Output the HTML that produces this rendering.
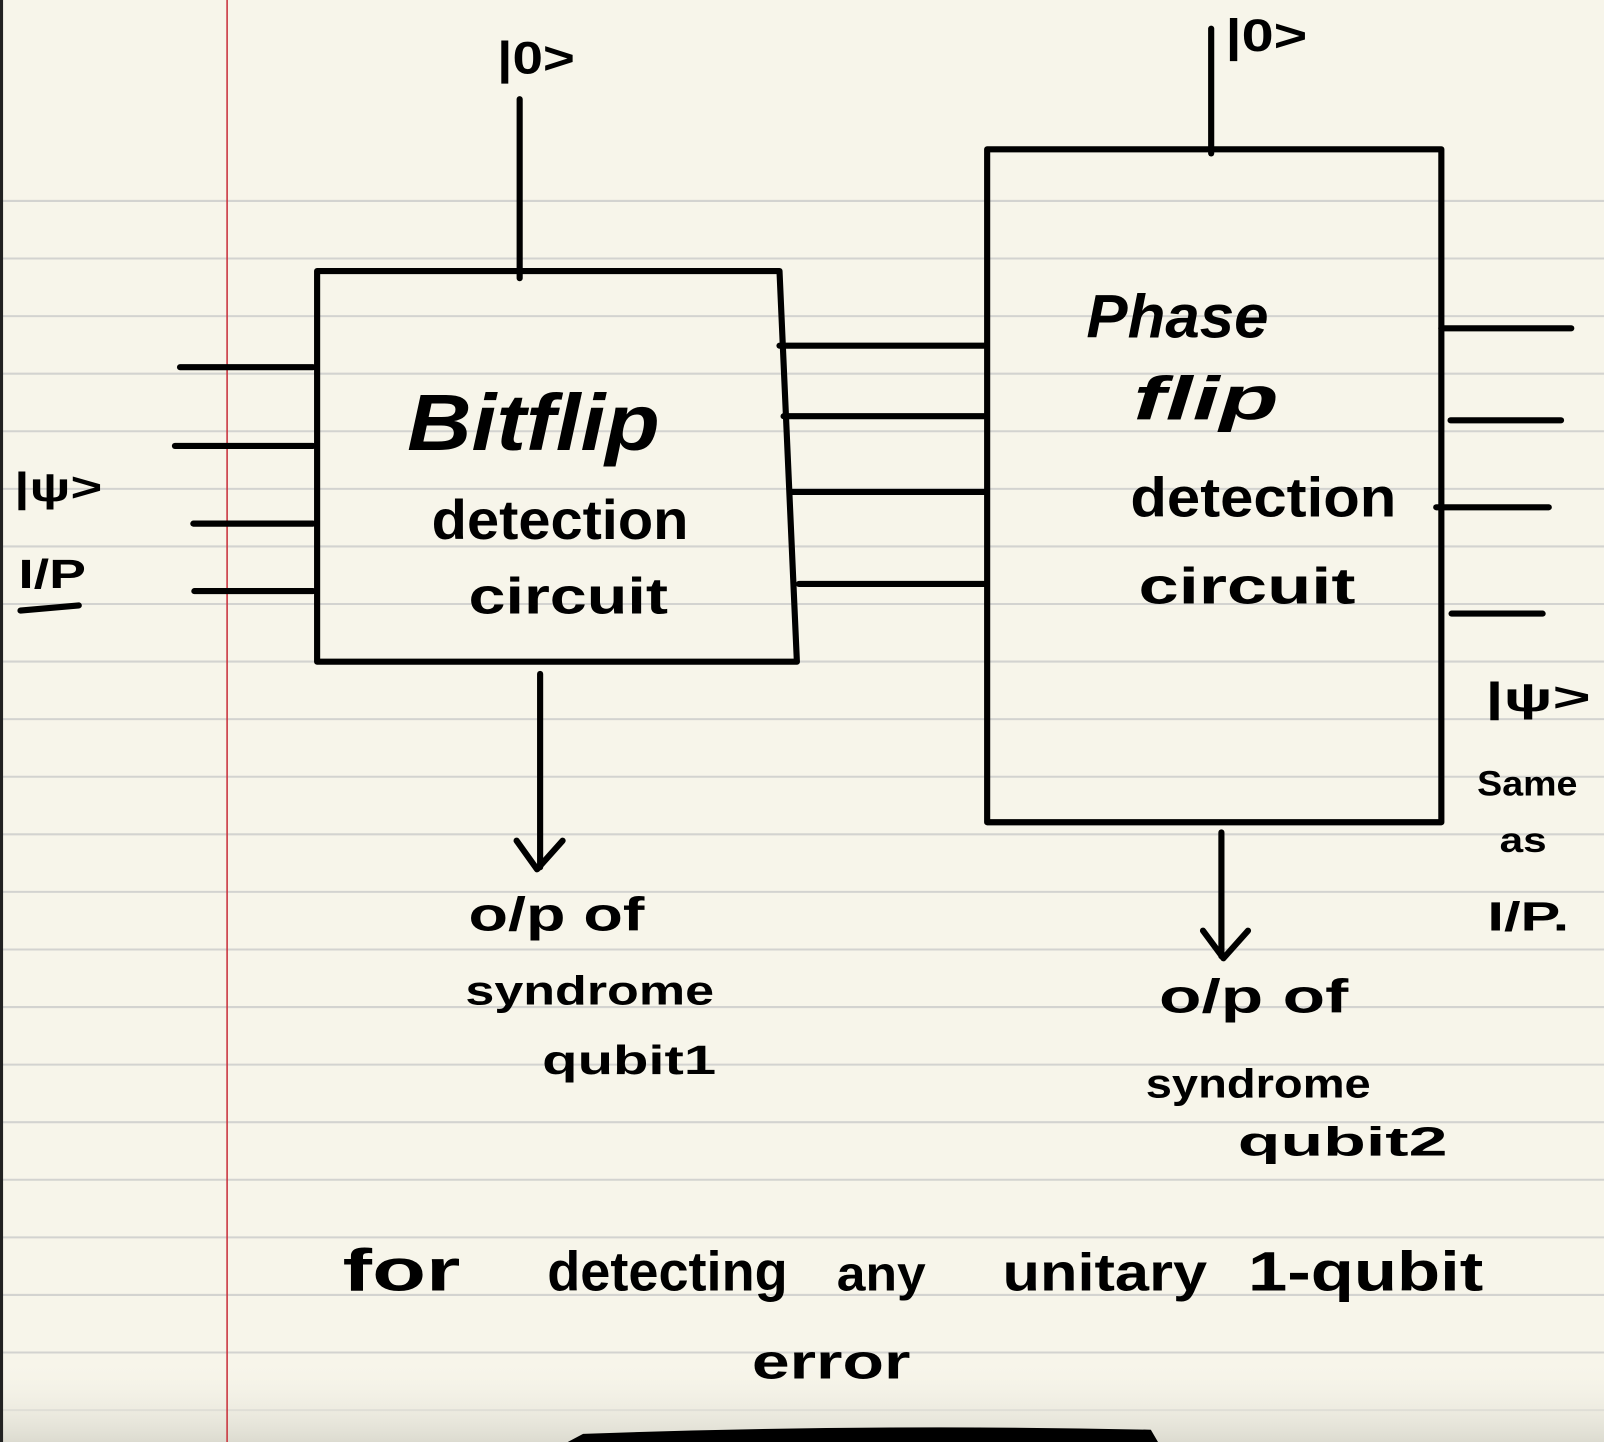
<!DOCTYPE html>
<html><head><meta charset="utf-8"><style>
html,body{margin:0;padding:0;background:#f7f5ea;}
svg{display:block}
text{font-family:"Liberation Sans",sans-serif;font-weight:bold;fill:#000}
</style></head><body>
<svg width="1604" height="1442" viewBox="0 0 1568 1410" preserveAspectRatio="none" xmlns="http://www.w3.org/2000/svg">
<defs>
<linearGradient id="bg" x1="0" y1="0" x2="0" y2="1">
<stop offset="0" stop-color="#f7f5ea" stop-opacity="0"/>
<stop offset="1" stop-color="#dcdbd0"/>
</linearGradient>
</defs>
<rect width="1568" height="1410" fill="#f7f5ea"/>
<g stroke="#d3d3d0" stroke-width="2">
<line x1="0" x2="1568" y1="196.5" y2="196.5"/><line x1="0" x2="1568" y1="252.8" y2="252.8"/>
<line x1="0" x2="1568" y1="309.1" y2="309.1"/><line x1="0" x2="1568" y1="365.4" y2="365.4"/>
<line x1="0" x2="1568" y1="421.7" y2="421.7"/><line x1="0" x2="1568" y1="478" y2="478"/>
<line x1="0" x2="1568" y1="534.3" y2="534.3"/><line x1="0" x2="1568" y1="590.6" y2="590.6"/>
<line x1="0" x2="1568" y1="646.9" y2="646.9"/><line x1="0" x2="1568" y1="703.2" y2="703.2"/>
<line x1="0" x2="1568" y1="759.5" y2="759.5"/><line x1="0" x2="1568" y1="815.8" y2="815.8"/>
<line x1="0" x2="1568" y1="872.1" y2="872.1"/><line x1="0" x2="1568" y1="928.4" y2="928.4"/>
<line x1="0" x2="1568" y1="984.7" y2="984.7"/><line x1="0" x2="1568" y1="1041" y2="1041"/>
<line x1="0" x2="1568" y1="1097.3" y2="1097.3"/><line x1="0" x2="1568" y1="1153.6" y2="1153.6"/>
<line x1="0" x2="1568" y1="1209.9" y2="1209.9"/><line x1="0" x2="1568" y1="1266.2" y2="1266.2"/>
<line x1="0" x2="1568" y1="1322.5" y2="1322.5"/><line x1="0" x2="1568" y1="1378.8" y2="1378.8"/>
</g>
<rect x="0" y="1330" width="1568" height="80" fill="url(#bg)"/>
<line x1="222" y1="0" x2="222" y2="1410" stroke="#c8303a" stroke-width="1.5"/>
<rect x="0" y="0" width="3" height="1410" fill="#222"/>
<path d="M555 1410 L570 1402 Q850 1392 1125 1398 L1132 1410 Z" fill="#000"/>

<g stroke="#000" stroke-width="6" fill="none" stroke-linecap="round" stroke-linejoin="round">
<path d="M310 265 L762 265 L779 647 L310 647 Z"/>
<line x1="508" y1="97" x2="508" y2="272"/>
<line x1="176" y1="359" x2="306" y2="359"/>
<line x1="171" y1="436" x2="306" y2="436"/>
<line x1="189" y1="512" x2="306" y2="512"/>
<line x1="190" y1="578" x2="306" y2="578"/>
<line x1="528" y1="659" x2="528" y2="848"/>
<path d="M505 822 L525 850 L550 822"/>
<line x1="762" y1="338" x2="962" y2="338"/>
<line x1="766" y1="407" x2="962" y2="407"/>
<line x1="773" y1="481" x2="962" y2="481"/>
<line x1="781" y1="571" x2="962" y2="571"/>
<rect x="965" y="146" width="444" height="658"/>
<line x1="1184" y1="28" x2="1184" y2="150"/>
<line x1="1409" y1="321" x2="1536" y2="321"/>
<line x1="1418" y1="411" x2="1526" y2="411"/>
<line x1="1404" y1="496" x2="1514" y2="496"/>
<line x1="1419" y1="600" x2="1508" y2="600"/>
<line x1="1194" y1="814" x2="1194" y2="935"/>
<path d="M1176 910 L1196 937 L1220 910"/>
<line x1="20" y1="597" x2="77" y2="592"/>
</g>

<g font-size="44" lengthAdjust="spacingAndGlyphs">
<text x="486" y="72" textLength="76" lengthAdjust="spacingAndGlyphs">|0&gt;</text>
<text x="1198" y="50" textLength="80" lengthAdjust="spacingAndGlyphs">|0&gt;</text>
<text x="14" y="490" font-size="40" textLength="86" lengthAdjust="spacingAndGlyphs">|ψ&gt;</text>
<text x="18" y="575" font-size="40" textLength="66" lengthAdjust="spacingAndGlyphs">I/P</text>
<text x="398" y="440" font-size="78" font-style="italic" textLength="247" lengthAdjust="spacingAndGlyphs">Bitflip</text>
<text x="422" y="527" font-size="54" textLength="251" lengthAdjust="spacingAndGlyphs">detection</text>
<text x="458" y="600" font-size="50" textLength="195" lengthAdjust="spacingAndGlyphs">circuit</text>
<text x="1062" y="330" font-size="60" font-style="italic" textLength="178" lengthAdjust="spacingAndGlyphs">Phase</text>
<text x="1108" y="410" font-size="60" font-style="italic" textLength="142" lengthAdjust="spacingAndGlyphs">flip</text>
<text x="1105" y="505" font-size="54" textLength="260" lengthAdjust="spacingAndGlyphs">detection</text>
<text x="1113" y="590" font-size="50" textLength="212" lengthAdjust="spacingAndGlyphs">circuit</text>
<text x="1452" y="695" font-size="40" textLength="103" lengthAdjust="spacingAndGlyphs">|ψ&gt;</text>
<text x="1444" y="778" font-size="34" textLength="98" lengthAdjust="spacingAndGlyphs">Same</text>
<text x="1466" y="833" font-size="34" textLength="46" lengthAdjust="spacingAndGlyphs">as</text>
<text x="1454" y="910" font-size="40" textLength="80" lengthAdjust="spacingAndGlyphs">I/P.</text>
<text x="458" y="910" font-size="46" textLength="172" lengthAdjust="spacingAndGlyphs">o/p of</text>
<text x="455" y="982" font-size="40" textLength="243" lengthAdjust="spacingAndGlyphs">syndrome</text>
<text x="530" y="1050" font-size="40" textLength="170" lengthAdjust="spacingAndGlyphs">qubit1</text>
<text x="1133" y="990" font-size="46" textLength="185" lengthAdjust="spacingAndGlyphs">o/p of</text>
<text x="1120" y="1073" font-size="40" textLength="220" lengthAdjust="spacingAndGlyphs">syndrome</text>
<text x="1210" y="1130" font-size="40" textLength="205" lengthAdjust="spacingAndGlyphs">qubit2</text>
<text x="335" y="1262" font-size="58" textLength="115" lengthAdjust="spacingAndGlyphs">for</text>
<text x="535" y="1262" font-size="54" textLength="235" lengthAdjust="spacingAndGlyphs">detecting</text>
<text x="818" y="1262" font-size="48" textLength="87" lengthAdjust="spacingAndGlyphs">any</text>
<text x="980" y="1262" font-size="52" textLength="200" lengthAdjust="spacingAndGlyphs">unitary</text>
<text x="1220" y="1262" font-size="54" textLength="230" lengthAdjust="spacingAndGlyphs">1-qubit</text>
<text x="735" y="1348" font-size="48" textLength="155" lengthAdjust="spacingAndGlyphs">error</text>
</g>
</svg>
</body></html>
